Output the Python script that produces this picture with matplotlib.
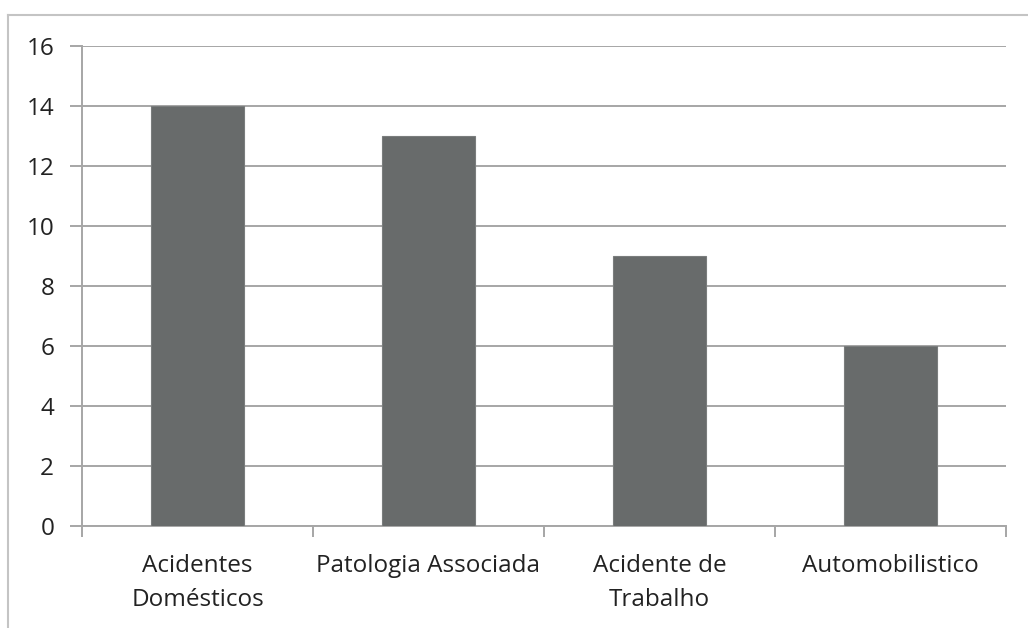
import matplotlib
matplotlib.use("Agg")
import matplotlib.pyplot as plt
from matplotlib.lines import Line2D
import numpy as np

categories = ["Acidentes\nDomésticos", "Patologia Associada", "Acidente de\nTrabalho", "Automobilistico"]
values = [14, 13, 9, 6]
yticks = [0, 2, 4, 6, 8, 10, 12, 14, 16]

plt.rcParams['font.family'] = ['Open Sans', 'DejaVu Sans']

fig = plt.figure(figsize=(10.28, 6.28), dpi=100)
ax = fig.add_axes([82/1028, 1-526/628, (1006-82)/1028, (526-46)/628])

x = np.arange(len(categories))
ax.bar(x, values, width=0.4, color="#686b6b", edgecolor="#7a7d7d", linewidth=0.8, zorder=3)

grid_c = "#a6a6a6"
ax.set_ylim(0, 16)
ax.set_xlim(-0.5, len(categories) - 0.5)
ax.set_yticks(yticks)
ax.yaxis.grid(True, color=grid_c, linewidth=1.4, zorder=0)
ax.set_axisbelow(True)

for s in ["top", "right"]:
    ax.spines[s].set_visible(False)
ax.spines["left"].set_color(grid_c)
ax.spines["left"].set_linewidth(1.4)
ax.spines["bottom"].set_color(grid_c)
ax.spines["bottom"].set_linewidth(1.4)

ax.tick_params(axis="y", length=9, width=1.4, color=grid_c, labelsize=17.5, labelcolor="#222222", pad=11)
ax.set_xticks(np.arange(-0.5, len(categories), 1.0))
ax.set_xticklabels([])
ax.tick_params(axis="x", length=8, width=1.4, color=grid_c)
ax.set_xticks(x, minor=True)
ax.set_xticklabels(categories, minor=True, fontsize=17.5, color="#222222", linespacing=1.55)
ax.tick_params(axis="x", which="minor", length=0, pad=20)

# outer frame (top and left)
fig.add_artist(Line2D([8/1028, 1.0], [1-15/628, 1-15/628], color="#c4c4c4", linewidth=1.5, transform=fig.transFigure))
fig.add_artist(Line2D([8/1028, 8/1028], [0, 1-15/628], color="#c4c4c4", linewidth=1.5, transform=fig.transFigure))

fig.savefig("out.png", dpi=100)
